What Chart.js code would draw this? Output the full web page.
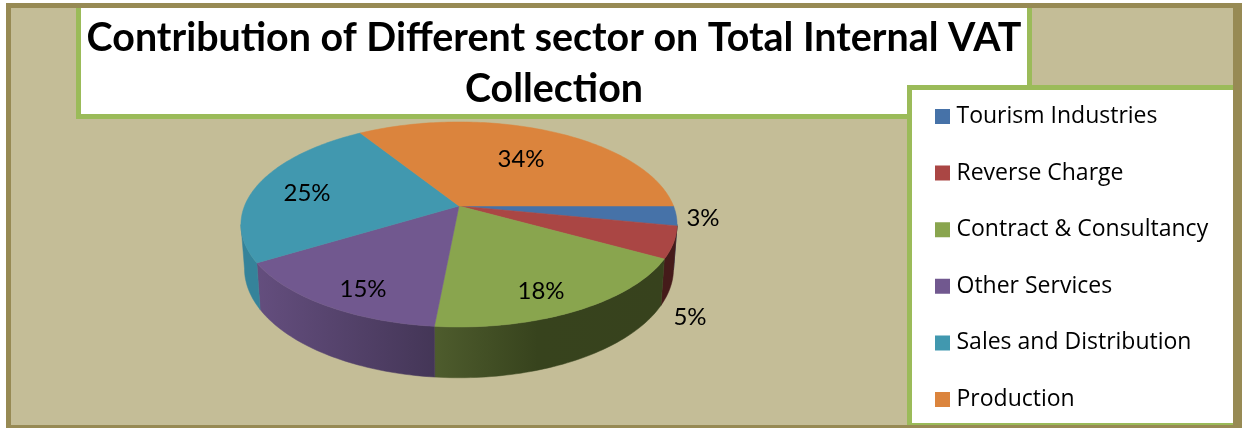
<!DOCTYPE html>
<html>
<head>
<meta charset="utf-8">
<title>Contribution of Different sector on Total Internal VAT Collection</title>
<script src="https://cdn.jsdelivr.net/npm/chart.js@4"></script>
<style>
  html, body { margin: 0; padding: 0; background: #fff; }
  canvas { display: block; }
</style>
</head>
<body>
<canvas id="vatPie" width="1242" height="428"></canvas>
<script>
const titleLines = ['Contribution of Different sector on Total Internal VAT', 'Collection'];
const sectors = ['Tourism Industries', 'Reverse Charge', 'Contract & Consultancy', 'Other Services', 'Sales and Distribution', 'Production'];
// estimated from the slice edges, the labels show them rounded
const shares = [3.1, 5, 18.4, 14.8, 24.8, 33.9];
const sliceColors = ['#4672a8', '#aa4644', '#89a54e', '#71588f', '#4198af', '#db843d'];
// side wall shading, left to right
const wallColors = [
  [[0, '#2c4768'], [1, '#2c4768']],
  [[0, '#451b1a'], [1, '#451b1a']],
  [[0, '#4e5c2d'], [0.45, '#37431d'], [1, '#37421d']],
  [[0, '#644e7e'], [1, '#443657']],
  [[0, '#35839a'], [1, '#35839a']],
  [[0, '#a8652e'], [1, '#a8652e']]
];
// where Excel put the percent labels
const labelSpots = [[703, 218], [690, 317], [541, 291], [363, 289], [307, 193], [521, 159]];

/* ── 3D VIEW ── perspective of the tilted disc */
const TILT = 0.18;
const topDisc = { x: 459, y: 206, rx: 214.5, ry: 99.2 };
const baseDisc = { x: 459, y: 249, rx: 211, ry: 105.6 };
const WALL_FROM = 10.4 * Math.PI / 180;
const WALL_TO = 169.6 * Math.PI / 180;

function project(disc, t) {
  const u = Math.cos(t), v = Math.sin(t), d = 1 - TILT * v;
  return [disc.x + disc.rx * u / d, disc.y + disc.ry * v / d];
}

function rimPoints(disc, from, to) {
  const steps = Math.max(2, Math.ceil((to - from) / 0.02));
  const pts = [];
  for (let i = 0; i <= steps; i++) pts.push(project(disc, from + (to - from) * i / steps));
  return pts;
}

function tracePoly(ctx, pts) {
  ctx.beginPath();
  pts.forEach((p, i) => i ? ctx.lineTo(p[0], p[1]) : ctx.moveTo(p[0], p[1]));
  ctx.closePath();
}

const framePlugin = {
  id: 'frame',
  beforeDraw(chart) {
    const ctx = chart.ctx;
    ctx.save();
    ctx.fillStyle = '#c4bd97';
    ctx.fillRect(6, 3, 1236, 425);
    // title box
    ctx.fillStyle = '#9bbb59';
    ctx.fillRect(76, 7, 956, 112);
    ctx.fillStyle = '#fff';
    ctx.fillRect(81, 7, 946, 107);
    // legend box
    ctx.fillStyle = '#9bbb59';
    ctx.fillRect(907, 85, 327, 340);
    ctx.fillStyle = '#fff';
    ctx.fillRect(912, 90, 321, 333);
    // outer border
    ctx.fillStyle = '#978a54';
    ctx.fillRect(6, 3, 1236, 5);
    ctx.fillRect(6, 3, 5, 425);
    ctx.fillRect(1233, 3, 9, 425);
    ctx.fillRect(6, 425, 1236, 3);
    ctx.restore();
  }
};

const layoutPlugin = {
  id: 'placeBoxes',
  afterLayout(chart) {
    const t = chart.titleBlock, l = chart.legend;
    t.left = 81; t.right = 1027; t.top = 12; t.bottom = 114;
    l.left = 940 - l.options.labels.padding;
    l.right = 1233;
    l.top = 105 - l.options.labels.padding;
    // past the canvas on purpose, else the last row wraps to a new column
    l.bottom = 520;
  }
};

const pie3dPlugin = {
  id: 'pie3d',
  beforeDatasetDraw(chart, args) {
    const ctx = chart.ctx;
    const arcs = args.meta.data;
    ctx.save();
    arcs.forEach((arc, i) => {
      const from = Math.max(arc.startAngle, WALL_FROM);
      const to = Math.min(arc.endAngle, WALL_TO);
      if (to <= from) return;
      const up = rimPoints(topDisc, from, to);
      const down = rimPoints(baseDisc, from, to).reverse();
      const xs = up.concat(down).map(p => p[0]);
      const grad = ctx.createLinearGradient(Math.min(...xs), 0, Math.max(...xs), 0);
      wallColors[i].forEach(s => grad.addColorStop(s[0], s[1]));
      tracePoly(ctx, up.concat(down));
      ctx.fillStyle = grad;
      ctx.strokeStyle = grad;
      ctx.lineWidth = 0.5;
      ctx.fill();
      ctx.stroke();
    });
    arcs.forEach(arc => {
      const pts = [[topDisc.x, topDisc.y]].concat(rimPoints(topDisc, arc.startAngle, arc.endAngle));
      tracePoly(ctx, pts);
      ctx.fillStyle = arc.options.backgroundColor;
      ctx.strokeStyle = arc.options.backgroundColor;
      ctx.lineWidth = 0.5;
      ctx.fill();
      ctx.stroke();
    });
    ctx.fillStyle = '#000';
    ctx.font = '24px Lato';
    ctx.textAlign = 'center';
    ctx.textBaseline = 'middle';
    shares.forEach((s, i) => ctx.fillText(Math.round(s) + '%', labelSpots[i][0], labelSpots[i][1]));
    ctx.restore();
    return false;
  }
};

new Chart(document.getElementById('vatPie'), {
  type: 'pie',
  data: {
    labels: sectors,
    datasets: [{ data: shares, backgroundColor: sliceColors, borderWidth: 0 }]
  },
  options: {
    responsive: false,
    animation: false,
    rotation: 90,
    plugins: {
      tooltip: { enabled: false },
      title: {
        display: true,
        text: titleLines,
        color: '#000',
        // negative bottom so the title does not eat the legend's column height
        padding: { top: 0, bottom: -70 },
        font: { family: 'Lato', size: 39.4, weight: 'bold', lineHeight: 1.31 }
      },
      legend: {
        display: true,
        position: 'right',
        align: 'start',
        labels: {
          color: '#000',
          font: { family: 'Open Sans', size: 23 },
          boxWidth: 5,
          boxHeight: 5,
          padding: 33.6,
          generateLabels(chart) {
            // thick same-colour outline gives the 15px swatch with a tight text gap
            return Chart.overrides.pie.plugins.legend.labels.generateLabels(chart)
              .map(item => ({ ...item, lineWidth: 10, strokeStyle: item.fillStyle }));
          }
        }
      }
    }
  },
  plugins: [framePlugin, layoutPlugin, pie3dPlugin]
});
</script>
</body>
</html>
